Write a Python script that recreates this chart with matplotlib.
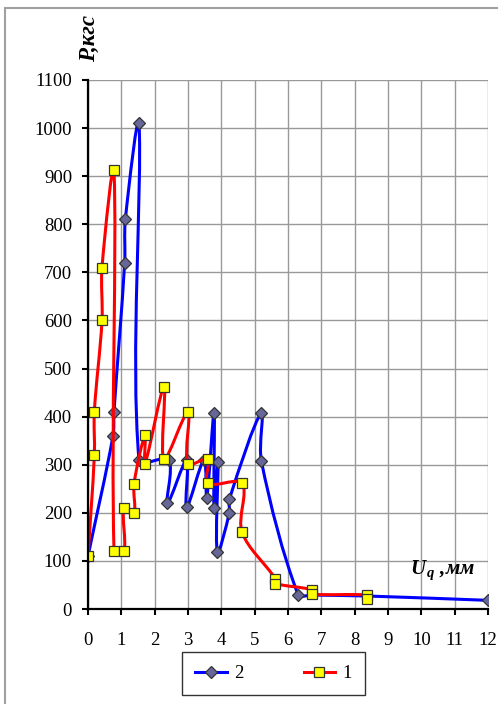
import numpy as np
import matplotlib
matplotlib.use("Agg")
import matplotlib.pyplot as plt
from matplotlib.path import Path
from matplotlib.patches import PathPatch, Rectangle
from matplotlib.lines import Line2D

plt.rcParams['font.family'] = ['Liberation Serif', 'DejaVu Serif']
plt.rcParams['mathtext.fontset'] = 'custom'
plt.rcParams['mathtext.it'] = 'Liberation Serif:italic:bold'
plt.rcParams['mathtext.rm'] = 'Liberation Serif:bold'

# series "2" (blue, diamonds); the two points near 6.7 and 8.4 sit under the red squares
x2 = [0.0, 0.75, 0.78, 1.10, 1.12, 1.53, 1.53, 2.42, 2.38, 2.96, 2.96, 3.48, 3.56,
      3.78, 3.78, 3.90, 3.88, 4.24, 4.24, 5.20, 5.20, 6.30, 6.72, 8.37, 12.0]
y2 = [110, 360, 410, 720, 810, 1010, 310, 310, 220, 310, 212, 310, 230,
      408, 210, 306, 118, 200, 228, 408, 308, 30, 29, 27, 18]

# series "1" (red, squares)
x1 = [0.0, 0.19, 0.19, 0.42, 0.42, 0.78, 0.78, 1.08, 1.08, 1.38, 1.38, 1.71, 1.71,
      2.28, 2.28, 3.0, 3.0, 3.59, 3.59, 4.62, 4.62, 5.62, 5.62, 6.72, 6.72, 8.37, 8.37]
y1 = [110, 320, 410, 600, 710, 912, 120, 120, 210, 200, 260, 362, 302,
      462, 311, 410, 302, 311, 261, 261, 160, 63, 53, 40, 31, 29, 21]

xticks = list(range(0, 13))
yticks = list(range(0, 1101, 100))

# rough px per data unit, only used to shape the smoothing
SX = 400 / 12
SY = 529 / 1100


def smooth_path(xs, ys):
    # excel-ish smoothed line: bezier with chord-length scaled tangents
    pts = np.column_stack([np.array(xs) * SX, np.array(ys) * SY]).astype(float)
    n = len(pts)
    verts = [pts[0]]
    codes = [Path.MOVETO]
    for i in range(n - 1):
        p0 = pts[i - 1] if i > 0 else pts[i]
        p1 = pts[i]
        p2 = pts[i + 1]
        p3 = pts[i + 2] if i + 2 < n else pts[i + 1]
        d01 = np.hypot(*(p1 - p0))
        d12 = np.hypot(*(p2 - p1))
        d23 = np.hypot(*(p3 - p2))
        f1 = d12 / (d01 + d12) / 3 if d01 + d12 > 0 else 0
        f2 = d12 / (d12 + d23) / 3 if d12 + d23 > 0 else 0
        verts += [p1 + (p2 - p0) * f1, p2 - (p3 - p1) * f2, p2]
        codes += [Path.CURVE4] * 3
    verts = np.array(verts)
    verts[:, 0] /= SX
    verts[:, 1] /= SY
    return Path(verts, codes)


fig = plt.figure(figsize=(4.98, 7.04), dpi=100)
ax = fig.add_axes([88 / 498, 1 - 609 / 704, 400 / 498, 529 / 704])

fig.add_artist(Rectangle((5 / 498, -0.1), 1.2, 1.1 - 8 / 704, transform=fig.transFigure,
                         fill=False, edgecolor='#a0a0a0', lw=1.5))

blue = '#0000ff'
red = '#ff0000'
dia_face = '#666699'
sq_face = '#ffff00'
edge = '#333333'

ax.add_patch(PathPatch(smooth_path(x2, y2), fill=False, edgecolor=blue, lw=2.2, zorder=3,
                       capstyle='round', joinstyle='round'))
ax.plot(x2[:22] + x2[-1:], y2[:22] + y2[-1:], ls='none', marker='D', ms=6.5,
        mfc=dia_face, mec=edge, mew=0.9, zorder=4)

ax.add_patch(PathPatch(smooth_path(x1, y1), fill=False, edgecolor=red, lw=2.2, zorder=5,
                       capstyle='round', joinstyle='round'))
ax.plot(x1, y1, ls='none', marker='s', ms=7.4, mfc=sq_face, mec=edge, mew=0.9, zorder=6)

ax.set_xlim(0, 12)
ax.set_ylim(0, 1100)
ax.set_xticks(xticks)
ax.set_yticks(yticks)
ax.grid(True, color='#999999', lw=1.0, zorder=0)
ax.set_axisbelow(True)

for s in ['top', 'right']:
    ax.spines[s].set_visible(False)
for s in ['left', 'bottom']:
    ax.spines[s].set_linewidth(1.6)
    ax.spines[s].set_color('black')
    ax.spines[s].set_zorder(7)

ax.tick_params(axis='both', direction='out', length=4.5, width=1.5, labelsize=13.5)
ax.tick_params(axis='x', pad=12)
ax.tick_params(axis='y', pad=7)

fig.text(89 / 498, 1 - 38 / 704, 'P,кгс', rotation=90, ha='center', va='center',
         fontsize=16.5, fontweight='bold', style='italic')
ax.text(10.65, 80, r'$U_{\,q}$ ,мм', ha='center', va='center',
        fontsize=15, fontweight='bold', style='italic')

handles = [
    Line2D([], [], color=blue, lw=2.2, marker='D', ms=6.5, mfc=dia_face, mec=edge, mew=0.9),
    Line2D([], [], color=red, lw=2.2, marker='s', ms=7.4, mfc=sq_face, mec=edge, mew=0.9),
]
leg = fig.legend(handles, ['2', '1'], loc='center', bbox_to_anchor=(273.5 / 498, 1 - 673.5 / 704),
                 ncol=2, fontsize=13.5, frameon=True, fancybox=False, shadow=False,
                 handlelength=1.7, handletextpad=0.4, columnspacing=3.2, borderpad=0.7,
                 borderaxespad=0)
leg.get_frame().set_edgecolor('black')
leg.get_frame().set_linewidth(1.0)

fig.savefig('out.png', dpi=100)
